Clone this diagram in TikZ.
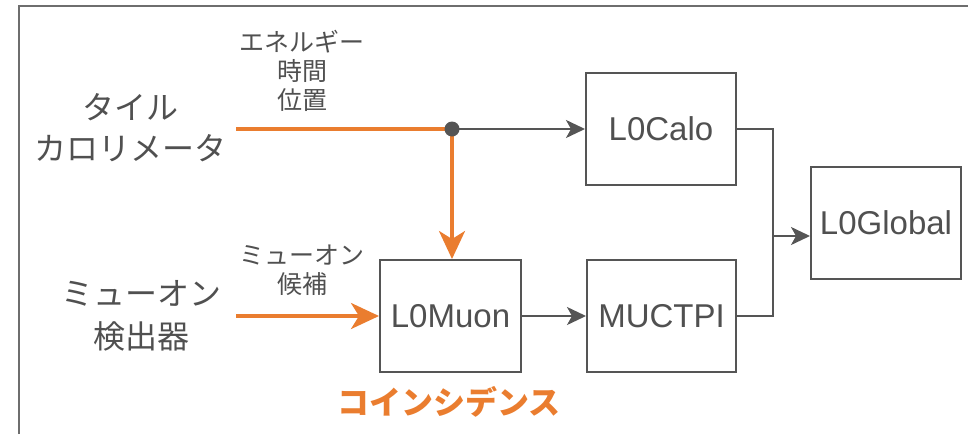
\documentclass[tikz,border=0pt]{standalone}
\usepackage{fontspec}
\setmainfont{Liberation Sans}
\setsansfont{Liberation Sans}
\newfontfamily\cjk{Noto Sans CJK JP}
\usetikzlibrary{arrows.meta}
\definecolor{linegray}{RGB}{85,85,85}
\definecolor{textgray}{RGB}{80,80,80}
\definecolor{framegray}{RGB}{110,110,110}
\definecolor{accent}{RGB}{234,125,47}
\tikzset{
  blockbox/.style={draw=linegray, line width=2pt, minimum width=150pt, minimum height=112pt, inner sep=0pt,
    text=textgray, font=\fontsize{33}{38}\selectfont},
  bigjp/.style={text=textgray, align=center, inner sep=0pt, font=\cjk\fontsize{32}{41}\selectfont},
  smalljp/.style={text=textgray, align=center, inner sep=0pt, font=\cjk\fontsize{25}{29}\selectfont},
  grayarrow/.style={draw=linegray, line width=2pt, -{Stealth[length=19pt, width=18pt, inset=5pt]}},
  grayline/.style={draw=linegray, line width=2pt},
  orangearrow/.style={draw=accent, line width=3.5pt, -{Stealth[length=28pt, width=26pt, inset=8pt]}},
  orangeline/.style={draw=accent, line width=3.5pt},
}
\begin{document}
\begin{tikzpicture}[x=1pt, y=-1pt]
\useasboundingbox (0,0) rectangle (968,434);
\draw[framegray, line width=2pt] (19,434) -- (19,6) -- (968,6);

\node[blockbox, minimum width=150pt] (calo) at (661,129) {L0Calo};
\node[blockbox, minimum width=141pt] (muon) at (450.5,316) {L0Muon};
\node[blockbox, minimum width=149pt] (muctpi) at (661.5,316) {MUCTPI};
\node[blockbox, minimum width=150pt] (global) at (886,223) {L0Global};

\node[bigjp] (tile) at (130,128) {タイル\\カロリメータ};
\node[bigjp, font=\cjk\fontsize{32}{43}\selectfont] (muondet) at (141,316) {ミューオン\\検出器};
\node[smalljp] (lab1) at (302,71) {エネルギー\\時間\\位置};
\node[smalljp] (lab2) at (302,270) {ミューオン\\候補};
\node[text=accent, inner sep=0pt, font=\cjk\bfseries\fontsize{32}{38}\selectfont] (coin) at (449,402) {コインシデンス};

\coordinate (tstart) at (236,129);
\coordinate (mstart) at (236,316);
\coordinate (split) at (452,129);
\coordinate (join) at (773,236);

\draw[orangeline] (tstart) -- (split);
\draw[grayarrow] (split) -- (calo.west);
\draw[orangearrow] (split) -- (split |- muon.north);
\fill[linegray] (split) circle (7.5pt);
\draw[orangearrow] (mstart) -- (muon.west);
\draw[grayarrow] (muon.east) -- (muctpi.west);
\draw[grayline] (calo.east) -| (join);
\draw[grayline] (muctpi.east) -| (join);
\draw[grayarrow] (join) -- (join -| global.west);
\end{tikzpicture}
\end{document}
